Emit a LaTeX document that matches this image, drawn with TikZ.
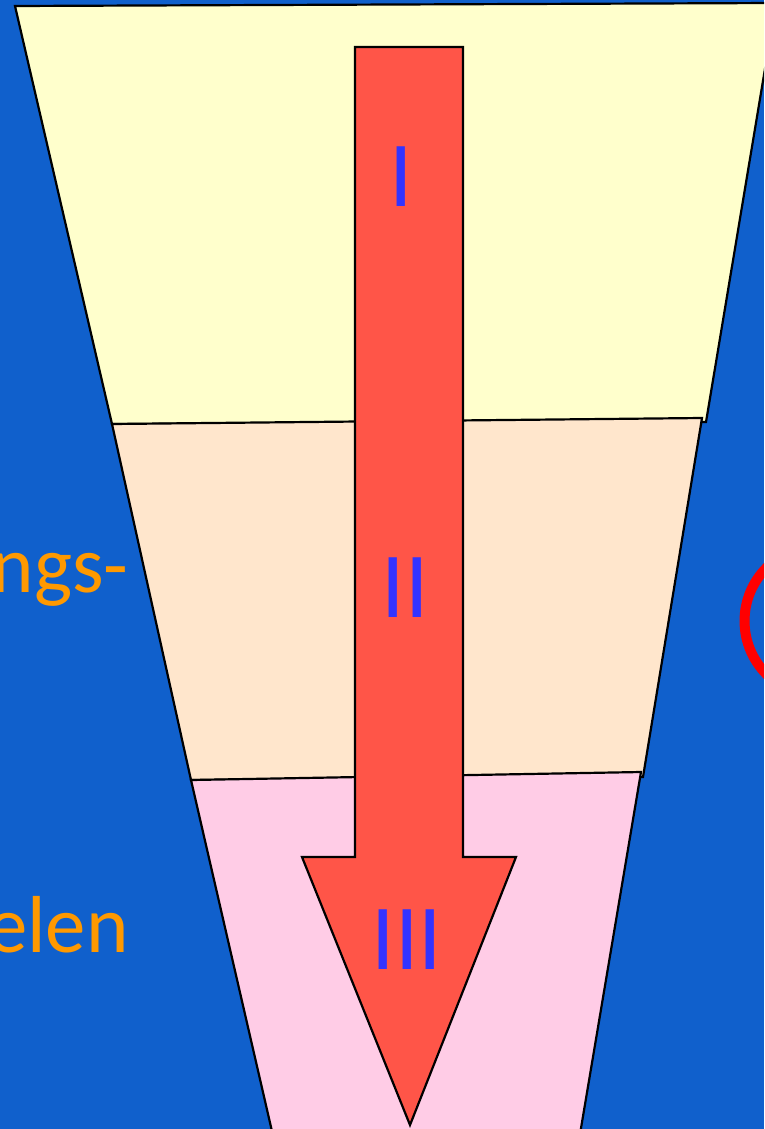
\documentclass[tikz,border=0pt]{standalone}
\usepackage{fontspec}
\setmainfont{Carlito}
\usetikzlibrary{positioning}
\definecolor{slideblue}{HTML}{1060CC}
\definecolor{stageyellow}{HTML}{FFFFCC}
\definecolor{stagepeach}{HTML}{FFE6CC}
\definecolor{stagepink}{HTML}{FFCCE6}
\definecolor{arrowred}{HTML}{FF5548}
\definecolor{numeralblue}{HTML}{3333FF}
\definecolor{captionorange}{HTML}{FF9900}

\begin{document}
\begin{tikzpicture}[
    x=0.02cm, y=-0.02cm,
    stage/.style={draw=black, line width=1.25pt, line join=miter},
    numeral/.style={text=numeralblue, inner sep=0pt,
      font=\fontsize{53}{58}\selectfont},
    caption/.style={text=captionorange, inner sep=0pt, anchor=base east,
      font=\fontsize{46}{52}\selectfont},
  ]

  % --- Background ---
  \fill[slideblue] (0,0) rectangle (764,1129);
  \useasboundingbox (0,0) rectangle (764,1129);
  \clip (0,0) rectangle (764,1129);

  % --- Funnel stages ---
  \draw[stage, fill=stageyellow] (15,6) -- (776,3) -- (706,422) -- (112,424) -- cycle;
  \draw[stage, fill=stagepeach] (112,424) -- (702,418) -- (643,777) -- (191,780) -- cycle;
  \draw[stage, fill=stagepink] (191,780) -- (641,772) -- (579,1140) -- (274,1140) -- cycle;

  % --- Big arrow ---
  \draw[stage, fill=arrowred] (355,47) -- (463,47) -- (463,857) -- (516,857)
    -- (410,1125) -- (302,857) -- (355,857) -- cycle;

  % --- Stage numerals ---
  \node[numeral] (one) at (401,177) {I};
  \node[numeral] (two) at (405,588) {II};
  \node[numeral] (three) at (407,940) {III};

  % --- Side captions (cut off at the left edge) ---
  \node[caption] (capupper) at (129,592) {ngs-};
  \node[caption] (caplower) at (129,952) {elen};

  % --- Red ring (cut off) ---
  \draw[red, line width=0.2cm] (820,621) circle[radius=1.51cm];
\end{tikzpicture}
\end{document}
